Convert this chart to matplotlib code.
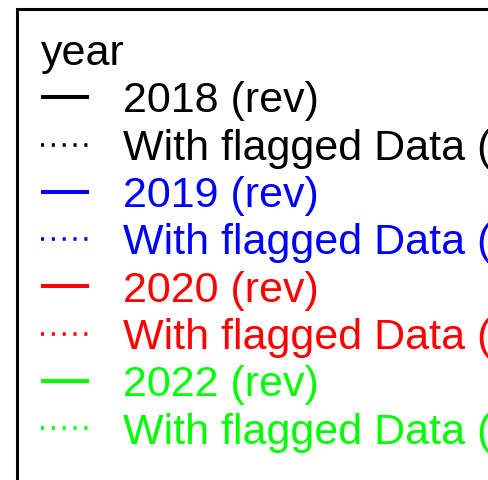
import matplotlib
matplotlib.use("Agg")
import matplotlib.pyplot as plt
from matplotlib.lines import Line2D
from matplotlib.patches import Rectangle

plt.rcParams['font.family'] = ['Liberation Sans', 'DejaVu Sans']

# Legend content
years = ["2018", "2019", "2020", "2022"]
year_colors = ["#000000", "#0000FF", "#FF0000", "#00FF00"]
rev_suffix = " (rev)"
flagged_label = "With flagged Data (rev)"

W, H = 489, 480
fig = plt.figure(figsize=(W / 100, H / 100), dpi=100)

handles = []
labels = []
for year, color in zip(years, year_colors):
    handles.append(Line2D([], [], color=color, linestyle="-", linewidth=2.9,
                          solid_capstyle="butt"))
    labels.append(year + rev_suffix)
    handles.append(Line2D([], [], color=color, linestyle=(0, (0.85, 2.15)),
                          linewidth=2.6, dash_capstyle="butt"))
    labels.append(flagged_label)

# legend box corner (runs off the right and bottom of the image)
x0, y0 = 17.5 / W, 1 - 8.5 / H

leg = fig.legend(handles, labels, title="year", loc="upper left",
                 bbox_to_anchor=(x0, y0 - 2 / H),
                 borderaxespad=0, fontsize=31, title_fontsize=31,
                 alignment="left", labelcolor="linecolor",
                 handlelength=1.115, handletextpad=0.8, labelspacing=0.17,
                 borderpad=0.545, frameon=False)

fig.patches.append(Rectangle((x0, -0.2), 1.0, y0 + 0.2, transform=fig.transFigure,
                             fill=False, edgecolor="black", linewidth=2.2))

fig.savefig("out.png", dpi=100)
